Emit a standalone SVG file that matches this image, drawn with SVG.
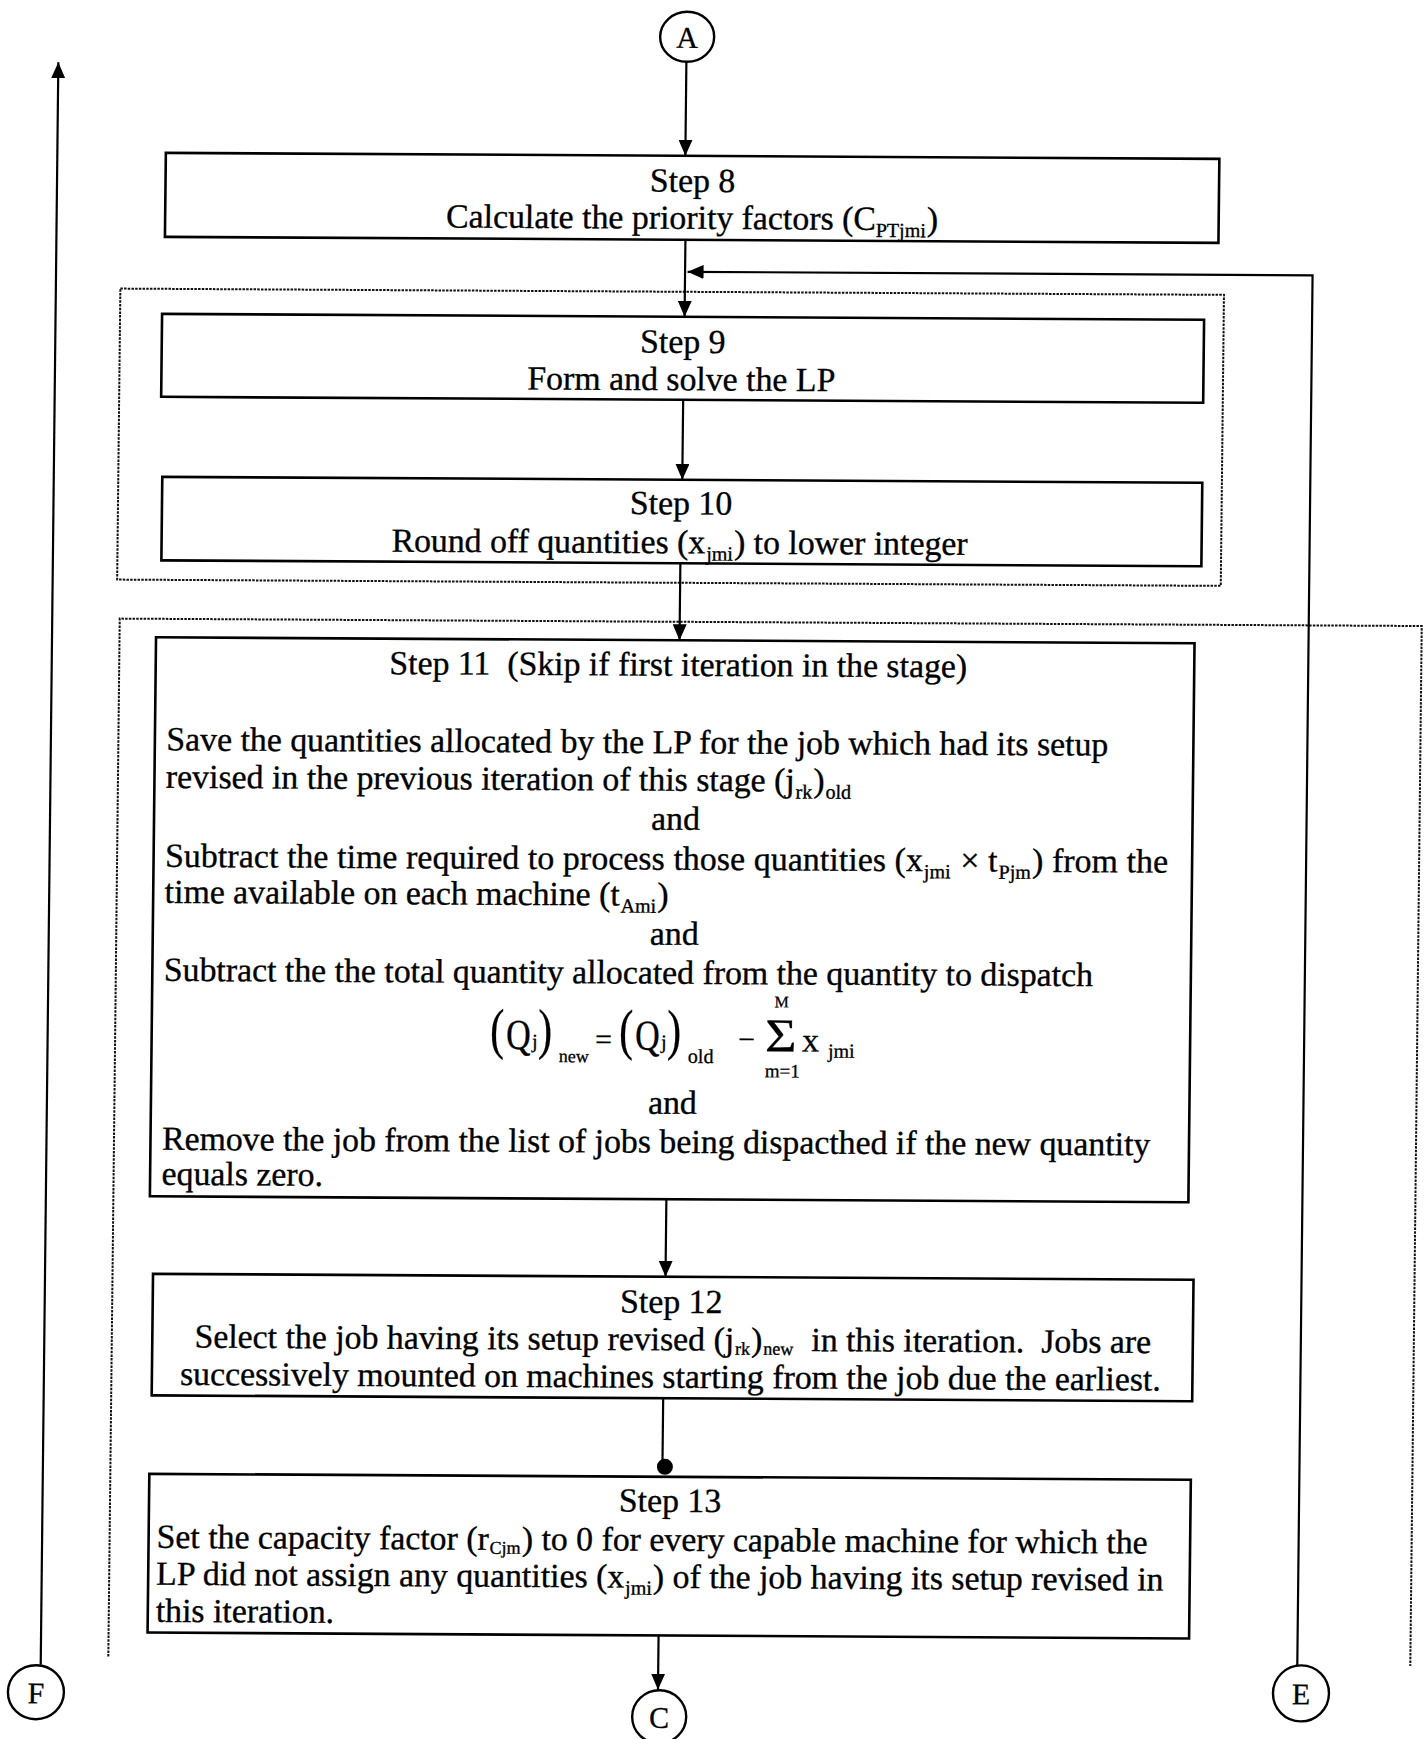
<svg xmlns="http://www.w3.org/2000/svg" width="1426" height="1739" viewBox="0 0 1426 1739">
<defs>
<style>
.box{fill:none;stroke:#000;stroke-width:2.6}
.dash{fill:none;stroke:#111;stroke-width:2;stroke-dasharray:2.5 1.2}
.ln{fill:none;stroke:#000;stroke-width:2.2}
.arr{marker-end:url(#ah)}
.ring{fill:#fff;stroke:#000;stroke-width:2.4}
text{font-family:"Liberation Serif","Times New Roman",serif;fill:#000}
.t{font-size:33.8px;stroke:#000;stroke-width:0.35px}
.c{text-anchor:middle}
.s{font-size:20px}
.s2{font-size:18px}
.lbl{font-size:30px;text-anchor:middle;stroke:#000;stroke-width:0.3px}
.f{stroke:#000;stroke-width:0.3px}
</style>
<marker id="ah" viewBox="0 0 16 14" markerWidth="16" markerHeight="14" refX="16" refY="7" orient="auto" markerUnits="userSpaceOnUse">
<path d="M0,0 L16,7 L0,14 z" fill="#000"/>
</marker>
</defs>
<rect width="1426" height="1739" fill="#fff"/>
<!-- whole sheet is drawn with a slight skew, as on the printed page -->
<g transform="matrix(1,0.0057,-0.011,1,9.57,-4.064)">

<!-- dotted grouping frames -->
<g id="frames">
<rect class="dash" x="114" y="292" width="1103.6" height="291"/>
<path class="dash" d="M117,1660 V622 H1419 V1662"/>
</g>

<!-- connectors -->
<g id="connectors">
<path class="ln arr" d="M677.5,62 V156"/>
<path class="ln arr" d="M678.5,240 V317"/>
<path class="ln arr" d="M1306,1662 V272 H681"/>
<path class="ln arr" d="M678,400 V480"/>
<path class="ln arr" d="M677,563.5 V640.5"/>
<path class="ln arr" d="M670,1199.5 V1277"/>
<path class="ln" d="M669,1398.5 V1468"/>
<circle cx="671.5" cy="1467" r="8" fill="#000"/>
<path class="ln arr" d="M667,1636 V1690"/>
<path class="ln arr" d="M49.5,1668.5 V66"/>
</g>

<!-- off-page connectors -->
<g id="conn-A">
<ellipse class="ring" cx="678" cy="37" rx="27" ry="25"/>
<text class="lbl" x="678" y="48">A</text>
</g>
<g id="conn-F">
<ellipse class="ring" cx="45" cy="1696" rx="28" ry="27"/>
<text class="lbl" x="45" y="1707">F</text>
</g>
<g id="conn-E">
<ellipse class="ring" cx="1310" cy="1690" rx="28" ry="28"/>
<text class="lbl" x="1310" y="1701">E</text>
</g>
<g id="conn-C">
<ellipse class="ring" cx="668.5" cy="1717" rx="27" ry="26.5"/>
<text class="lbl" x="668.5" y="1728">C</text>
</g>

<!-- Step 8 -->
<g id="step8">
<rect class="box" x="158" y="156" width="1053.5" height="84"/>
<text class="t c" x="685" y="192">Step 8</text>
<text class="t c" x="685" y="229">Calculate the priority factors (C<tspan class="s" dy="7">PTjmi</tspan><tspan dx="1" dy="-7">)</tspan></text>
</g>

<!-- Step 9 -->
<g id="step9">
<rect class="box" x="156" y="317" width="1042" height="83"/>
<text class="t c" x="677" y="353">Step 9</text>
<text class="t c" x="676" y="390.5">Form and solve the LP</text>
</g>

<!-- Step 10 -->
<g id="step10">
<rect class="box" x="158" y="480" width="1040" height="83.5"/>
<text class="t c" x="677" y="514.5">Step 10</text>
<text class="t c" x="676" y="553.5">Round off quantities (x<tspan class="s" dx="1" dy="7">jmi</tspan><tspan dx="1" dy="-7">) to lower integer</tspan></text>
</g>

<!-- Step 11 -->
<g id="step11">
<rect class="box" x="153.5" y="640.5" width="1038.5" height="559"/>
<text class="t c" x="676" y="676" xml:space="preserve">Step 11  (Skip if first iteration in the stage)</text>
<text class="t" x="165" y="753.5">Save the quantities allocated by the LP for the job which had its setup</text>
<text class="t" x="165" y="791">revised in the previous iteration of this stage (j<tspan class="s" dx="1" dy="7">rk</tspan><tspan dx="1" dy="-7">)</tspan><tspan class="s" dx="1" dy="7">old</tspan></text>
<text class="t c" x="675" y="830">and</text>
<text class="t" x="165" y="870" textLength="1003">Subtract the time required to process those quantities (x<tspan class="s" dx="1" dy="7">jmi</tspan><tspan dx="1" dy="-7"> × t</tspan><tspan class="s" dx="1" dy="7">Pjm</tspan><tspan dx="1" dy="-7">) from the</tspan></text>
<text class="t" x="165" y="906">time available on each machine (t<tspan class="s" dx="1" dy="7">Ami</tspan><tspan dx="1" dy="-7">)</tspan></text>
<text class="t c" x="675" y="945">and</text>
<text class="t" x="165" y="984">Subtract the the total quantity allocated from the quantity to dispatch</text>
<!-- (Qj)new = (Qj)old - sum over m of x_jmi -->
<g id="formula" class="f">
<text transform="translate(492,1049) scale(0.75,1)" font-size="56">(</text>
<text transform="translate(508,1050) scale(1,1.25)" font-size="34">Q</text>
<text x="534" y="1049" font-size="20">j</text>
<text transform="translate(540,1049) scale(0.75,1)" font-size="56">)</text>
<text x="561" y="1063" font-size="18">new</text>
<text x="597" y="1050" font-size="30">=</text>
<text transform="translate(621,1049) scale(0.75,1)" font-size="56">(</text>
<text transform="translate(637,1050) scale(1,1.25)" font-size="34">Q</text>
<text x="663" y="1049" font-size="20">j</text>
<text transform="translate(669,1049) scale(0.75,1)" font-size="56">)</text>
<text x="690" y="1063" font-size="20">old</text>
<text x="740" y="1049" font-size="30">−</text>
<text transform="translate(767,1051) scale(1.15,1)" font-size="47">Σ</text>
<text x="776" y="1007" font-size="16">M</text>
<text x="767" y="1077" font-size="19">m=1</text>
<text x="804" y="1051" font-size="34">x</text>
<text x="830" y="1057" font-size="20">jmi</text>
</g>
<text class="t c" x="675" y="1114">and</text>
<text class="t" x="165" y="1153">Remove the job from the list of jobs being dispacthed if the new quantity</text>
<text class="t" x="165" y="1188">equals zero.</text>
</g>

<!-- Step 12 -->
<g id="step12">
<rect class="box" x="157.5" y="1277" width="1040.5" height="121.5"/>
<text class="t c" x="676" y="1313">Step 12</text>
<text class="t c" x="678" y="1350.5" xml:space="preserve">Select the job having its setup revised (j<tspan class="s2" dx="1" dy="4">rk</tspan><tspan dx="1" dy="-4">)</tspan><tspan class="s2" dx="1" dy="4">new</tspan><tspan dx="1" dy="-4">  in this iteration.  Jobs are</tspan></text>
<text class="t c" x="676" y="1388">successively mounted on machines starting from the job due the earliest.</text>
</g>

<!-- Step 13 -->
<g id="step13">
<rect class="box" x="156" y="1477" width="1041.5" height="158.7"/>
<text class="t c" x="677" y="1512">Step 13</text>
<text class="t" x="164" y="1551">Set the capacity factor (r<tspan class="s2" dx="1" dy="4">Cjm</tspan><tspan dx="1" dy="-4">) to 0 for every capable machine for which the</tspan></text>
<text class="t" x="164" y="1588">LP did not assign any quantities (x<tspan class="s" dx="1" dy="7">jmi</tspan><tspan dx="1" dy="-7">) of the job having its setup revised in</tspan></text>
<text class="t" x="164" y="1625">this iteration.</text>
</g>

</g>
</svg>
